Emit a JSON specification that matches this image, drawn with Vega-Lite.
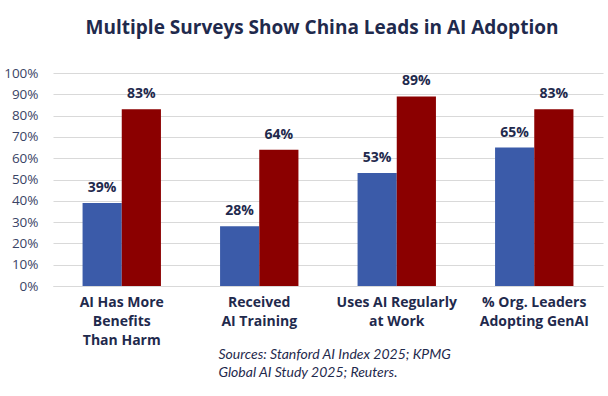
{
  "$schema": "https://vega.github.io/schema/vega-lite/v6.json",
  "autosize": {"type": "none"},
  "width": 550,
  "height": 213,
  "padding": {"left": 53, "top": 73, "right": 5, "bottom": 110},
  "background": "white",
  "title": {
    "text": "Multiple Surveys Show China Leads in AI Adoption",
    "font": "Open Sans",
    "fontSize": 19,
    "fontWeight": "bold",
    "color": "#1F2A4D",
    "anchor": "middle",
    "offset": 28,
    "dx": -6
  },
  "data": {
    "values": [
      {"category": "AI Has More Benefits Than Harm", "group": "Global", "value": 0.39},
      {"category": "AI Has More Benefits Than Harm", "group": "China", "value": 0.83},
      {"category": "Received AI Training", "group": "Global", "value": 0.28},
      {"category": "Received AI Training", "group": "China", "value": 0.64},
      {"category": "Uses AI Regularly at Work", "group": "Global", "value": 0.53},
      {"category": "Uses AI Regularly at Work", "group": "China", "value": 0.89},
      {"category": "% Org. Leaders Adopting GenAI", "group": "Global", "value": 0.65},
      {"category": "% Org. Leaders Adopting GenAI", "group": "China", "value": 0.83}
    ]
  },
  "encoding": {
    "x": {
      "field": "category",
      "type": "nominal",
      "sort": null,
      "scale": {"paddingInner": 0.43, "paddingOuter": 0.215},
      "axis": {
        "labelAngle": 0,
        "labelFont": "Open Sans",
        "labelFontSize": 14,
        "labelFontWeight": "bold",
        "labelColor": "#1F2A4D",
        "labelLineHeight": 19,
        "labelPadding": 9,
        "labelBaseline": "top",
        "labelLimit": 200,
        "ticks": false,
        "domainColor": "#D9D9D9",
        "labelExpr": "datum.label == 'AI Has More Benefits Than Harm' ? ['AI Has More', 'Benefits', 'Than Harm'] : datum.label == 'Received AI Training' ? ['Received', 'AI Training'] : datum.label == 'Uses AI Regularly at Work' ? ['Uses AI Regularly', 'at Work'] : ['% Org. Leaders', 'Adopting GenAI']",
        "title": ["Sources: Stanford AI Index 2025; KPMG", "Global AI Study 2025; Reuters."],
        "titleFont": "Lato",
        "titleFontStyle": "italic",
        "titleFontWeight": "normal",
        "titleFontSize": 14,
        "titleColor": "#1F2A4D",
        "titleAlign": "left",
        "titleAnchor": "start",
        "titleBaseline": "top",
        "titleLineHeight": 18,
        "titleX": 165,
        "titleY": 61
      }
    },
    "xOffset": {"field": "group", "type": "nominal", "sort": ["Global", "China"]},
    "y": {
      "field": "value",
      "type": "quantitative",
      "scale": {"domain": [0, 1]},
      "axis": {
        "format": ".0%",
        "values": [0, 0.1, 0.2, 0.3, 0.4, 0.5, 0.6, 0.7, 0.8, 0.9, 1],
        "labelOverlap": false,
        "title": null,
        "domain": false,
        "ticks": false,
        "gridColor": "#D9D9D9",
        "labelFont": "Open Sans",
        "labelFontSize": 13.5,
        "labelColor": "#3A4466",
        "labelPadding": 15
      }
    }
  },
  "layer": [
    {
      "mark": {"type": "bar"},
      "encoding": {
        "color": {
          "field": "group",
          "type": "nominal",
          "scale": {"domain": ["Global", "China"], "range": ["#3B5BA9", "#8B0000"]},
          "legend": null
        }
      }
    },
    {
      "mark": {"type": "text", "dy": -15, "font": "Open Sans", "fontSize": 14, "fontWeight": "bold", "color": "#1F2A4D"},
      "encoding": {
        "text": {"field": "value", "type": "quantitative", "format": ".0%"}
      }
    }
  ],
  "config": {"view": {"stroke": null}}
}
